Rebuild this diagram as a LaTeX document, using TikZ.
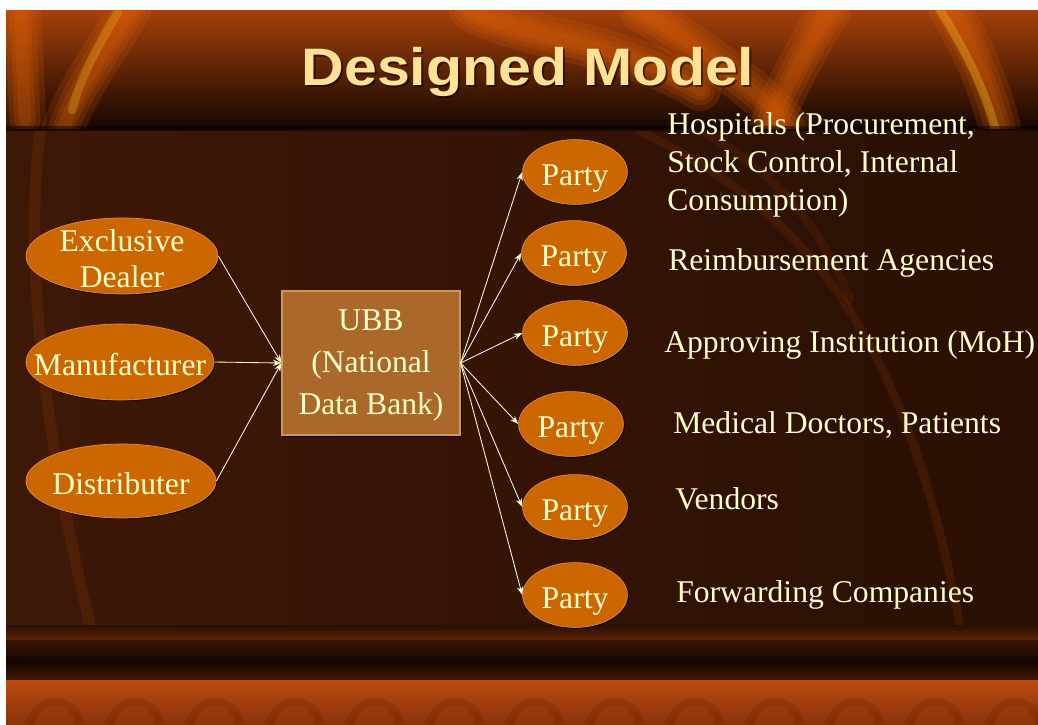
\documentclass[tikz,border=0pt]{standalone}
\usepackage{fontspec}
\setmainfont{Liberation Serif}
\newfontfamily\titlefont{Liberation Sans}
\usepackage{tikz}
\usetikzlibrary{shapes.geometric,shadows,arrows.meta}
\definecolor{cream}{RGB}{255,255,204}
\definecolor{ovalfill}{RGB}{204,102,0}
\definecolor{ovalrim}{RGB}{226,140,60}
\definecolor{boxfill}{RGB}{170,104,42}
\definecolor{boxrim}{RGB}{205,150,95}
\definecolor{titlecol}{RGB}{255,226,150}
\definecolor{slidebg}{RGB}{48,18,5}
\definecolor{flame}{RGB}{240,105,10}
\definecolor{glow}{RGB}{255,210,40}
\tikzset{oval/.style={ellipse, draw=ovalrim, line width=.5pt, fill=ovalfill, inner sep=0pt,
        drop shadow={shadow xshift=1pt, shadow yshift=-1pt, opacity=.6, fill=black}},
    ovaltext/.style={text=cream, align=center, font=\fontsize{22.5}{26}\selectfont, yshift=-2pt},
    bank/.style={rectangle, draw=boxrim, line width=.8pt, fill=boxfill, align=center,
        text=cream, font=\fontsize{22.5}{30}\selectfont,
        minimum width=4.45cm, minimum height=3.6cm,
        drop shadow={shadow xshift=1.5pt, shadow yshift=-1.5pt, opacity=.6, fill=black}},
    note/.style={anchor=base west, inner sep=0pt, text=cream, align=left,
        font=\fontsize{22.5}{27}\selectfont},
    streak/.style={draw=flame, line cap=round, opacity=.16},
    link/.style={draw=cream, line width=.6pt, -{Stealth[length=6pt, width=4.5pt]}}}
\begin{document}
\begin{tikzpicture}[x=0.025cm, y=-0.025cm]
    \useasboundingbox (0,0) rectangle (1038,724);
    \fill[white] (0,0) rectangle (1038,724);
    % slide background
    \fill[slidebg] (6,10) rectangle (1038,724);
    \shade[top color={rgb,255:red,165;green,64;blue,8}, middle color={rgb,255:red,120;green,44;blue,6},
        bottom color={rgb,255:red,22;green,7;blue,2}]
        (6,10) rectangle (1038,128);
    \begin{scope}
        \clip (6,10) rectangle (1038,128);
        \foreach \w in {30,22,15,9} {
            \draw[streak, line width=\w pt] (130,10) .. controls (100,60) and (70,100) .. (60,140);
            \draw[streak, line width=\w pt] (20,10) -- (25,120);
            \draw[streak, line width=\w pt] (470,10) .. controls (520,40) and (620,40) .. (700,90);
            \draw[streak, line width=\w pt] (640,10) .. controls (700,50) and (760,90) .. (790,128);
            \draw[streak, line width=\w pt] (950,10) .. controls (975,50) and (990,90) .. (1000,128);
            \draw[streak, line width=\w pt] (830,10) .. controls (800,60) and (780,100) .. (770,128);
        }
        \draw[glow, line width=6pt, opacity=.3, line cap=round] (940,10) .. controls (965,50) and (985,90) .. (995,128);
        \draw[glow, line width=6pt, opacity=.25, line cap=round] (118,12) .. controls (95,50) and (80,80) .. (72,110);
    \end{scope}
    \fill[black, opacity=.45] (6,126) rectangle (1038,131);
    \shade[left color={rgb,255:red,62;green,24;blue,7}, right color={rgb,255:red,42;green,15;blue,4}]
        (6,131) rectangle (1038,625);
    \begin{scope}
        \clip (6,131) rectangle (1038,625);
        \draw[streak, line width=8pt, opacity=.1] (40,130) .. controls (20,300) and (60,500) .. (90,625);
        \draw[streak, line width=6pt, opacity=.1] (640,131) .. controls (780,200) and (900,300) .. (960,625);
        \draw[streak, line width=6pt, opacity=.08] (700,131) .. controls (760,160) and (820,220) .. (850,300);
    \end{scope}
    \shade[top color={rgb,255:red,42;green,15;blue,4}, bottom color={rgb,255:red,95;green,35;blue,7}]
        (6,625) rectangle (1038,640);
    \shade[top color={rgb,255:red,60;green,22;blue,5}, bottom color={rgb,255:red,18;green,6;blue,1}]
        (6,640) rectangle (1038,662);
    \shade[top color={rgb,255:red,18;green,6;blue,1}, bottom color={rgb,255:red,70;green,25;blue,5}]
        (6,662) rectangle (1038,680);
    \shade[top color={rgb,255:red,185;green,75;blue,15}, bottom color={rgb,255:red,140;green,50;blue,10}]
        (6,680) rectangle (1038,724);
    \begin{scope}
        \clip (6,682) rectangle (1038,724);
        \foreach \s in {30,110,190,270,350,430,510,590,670,750,830,910,990} {
            \draw[draw={rgb,255:red,90;green,30;blue,5}, line width=6pt, opacity=.22]
                (\s,724) .. controls (\s+5,695) and (\s+45,695) .. (\s+50,724);
        }
    \end{scope}

    % title
    \node[anchor=base, text=black, opacity=.5] at (530,87)
        {\titlefont\bfseries\fontsize{37.5}{40}\selectfont\scalebox{1.12}[1]{Designed Model}};
    \node[anchor=base, text=titlecol] (title) at (528,85)
        {\titlefont\bfseries\fontsize{37.5}{40}\selectfont\scalebox{1.12}[1]{Designed Model}};

    % sources
    \node[oval, minimum width=4.8cm, minimum height=1.9cm,
        label={[ovaltext]center:Exclusive\\Dealer}] (dealer) at (122,256) {};
    \node[oval, minimum width=4.7cm, minimum height=1.9cm,
        label={[ovaltext]center:Manufacturer}] (maker) at (120,362) {};
    \node[oval, minimum width=4.75cm, minimum height=1.85cm,
        label={[ovaltext]center:Distributer}] (distrib) at (121,481) {};

    % data bank
    \node[bank, label={[text=cream, align=center, font=\fontsize{22.5}{30}\selectfont, yshift=-2pt]center:UBB\\(National\\Data Bank)}]
        (ubb) at (371,363) {};

    % parties
    \foreach \i/\px/\py in {1/575/172, 2/574/253, 3/575/333, 4/571/424, 5/575/507, 6/575/595} {
        \node[oval, minimum width=2.62cm, minimum height=1.62cm,
            label={[ovaltext, yshift=-3pt]center:Party}] (p\i) at (\px,\py) {};
    }

    % descriptions
    \node[note] (hosp) at (667,210) {Hospitals (Procurement,\\Stock Control, Internal\\Consumption)};
    \node[note] (reimb) at (668,270) {Reimbursement Agencies};
    \node[note] (moh) at (664,352) {Approving Institution (MoH)};
    \node[note] (docs) at (673,433) {Medical Doctors, Patients};
    \node[note] (vend) at (675,509) {Vendors};
    \node[note] (fwd) at (676,602) {Forwarding Companies};

    % connectors
    \draw[link] (dealer.east) -- (ubb.west);
    \draw[link] (maker.east) -- (ubb.west);
    \draw[link] (distrib.east) -- (ubb.west);
    \foreach \i in {1,...,6} {
        \draw[link] (ubb.east) -- (p\i.west);
    }
\end{tikzpicture}
\end{document}
